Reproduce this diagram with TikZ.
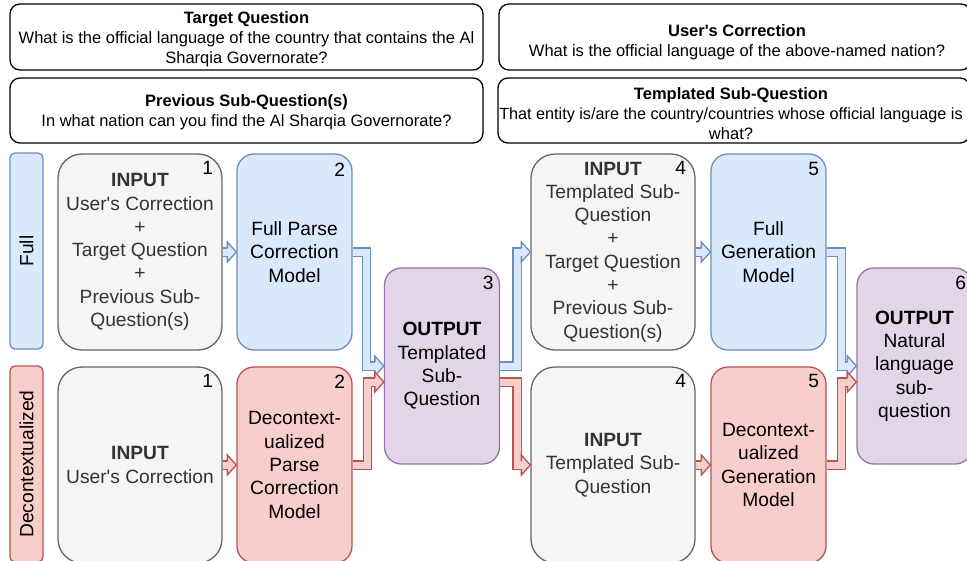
\documentclass[tikz,border=0pt]{standalone}
\usepackage{fontspec}
\setmainfont{Liberation Sans}
\usetikzlibrary{calc}
\definecolor{gfill}{HTML}{F5F5F5}
\definecolor{gstroke}{HTML}{666666}
\definecolor{gtext}{HTML}{333333}
\definecolor{bfill}{HTML}{DAE8FC}
\definecolor{bstroke}{HTML}{6C8EBF}
\definecolor{rfill}{HTML}{F8CECC}
\definecolor{rstroke}{HTML}{B85450}
\definecolor{pfill}{HTML}{E1D5E7}
\definecolor{pstroke}{HTML}{9673A6}
\newcommand{\flexhead}[3]{%
  \fill[#2] ($(#3)+(-9,-10)$) -- (#3) -- ($(#3)+(-9,10)$) -- cycle;
  \draw[#1, line width=1.3pt, line join=miter] ($(#3)+(-9,-4.15)$) -- ($(#3)+(-9,-10)$) -- (#3) -- ($(#3)+(-9,10)$) -- ($(#3)+(-9,4.15)$);
}
\begin{document}
\begin{tikzpicture}[x=1pt,y=-1pt,
  base/.style={line width=1.3pt, align=center, inner sep=0pt},
  mfont/.style={font=\fontsize{19.2}{23.3}\selectfont},
  topbox/.style={base, draw=black, fill=white, rounded corners=10pt, minimum height=66pt},
  toptext/.style={align=center, inner sep=0pt, font=\fontsize{16.5}{20}\selectfont},
  gbox/.style={base, mfont, draw=gstroke, fill=gfill, text=gtext, rounded corners=24pt, minimum width=164pt, minimum height=196pt},
  bbox/.style={base, mfont, draw=bstroke, fill=bfill, rounded corners=17pt, minimum width=115pt, minimum height=196pt},
  rbox/.style={base, mfont, draw=rstroke, fill=rfill, rounded corners=17pt, minimum width=115pt, minimum height=196pt},
  pbox/.style={base, mfont, draw=pstroke, fill=pfill, rounded corners=17pt, minimum width=115pt, minimum height=196pt},
  blabel/.style={base, mfont, draw=bstroke, fill=bfill, rounded corners=5pt, minimum width=196pt, minimum height=33pt, rotate=90},
  rlabel/.style={base, mfont, draw=rstroke, fill=rfill, rounded corners=5pt, minimum width=196pt, minimum height=33pt, rotate=90},
  num/.style={mfont, inner sep=0pt, text=black},
  bshaft/.style={draw=bstroke, line width=1.3pt, double=bfill, double distance=7pt, line join=miter},
  rshaft/.style={draw=rstroke, line width=1.3pt, double=rfill, double distance=7pt, line join=miter}
]
\useasboundingbox (0,0) rectangle (967,560);
\clip (0,0) rectangle (967,560);

% top text boxes
\node[topbox, minimum width=473pt] (tq) at (246.5,37) {};
\node[toptext] (tqt) at (246.5,39.5) {\textbf{Target Question}\\What is the official language of the country that contains the Al\\Sharqia Governorate?};
\node[topbox, minimum width=473pt, minimum height=65pt] (ps) at (246.5,110.5) {};
\node[toptext] (pst) at (246.5,112) {\textbf{Previous Sub-Question(s)}\\In what nation can you find the Al Sharqia Governorate?};
\node[topbox, minimum width=472pt] (uc) at (735,37) {};
\node[toptext] (uct) at (737,42) {\textbf{User\textquotesingle s Correction}\\What is the official language of the above-named nation?};
\node[topbox, minimum width=472pt, minimum height=65pt] (tsq) at (734,110.5) {};
\node[toptext] (tsqt) at (731,114) {\textbf{Templated Sub-Question}\\{\fontsize{16.2}{20}\selectfont That entity is/are the country/countries whose official language is}\\what?};

% row labels
\node[blabel] (lf) at (26.5,251) {Full};
\node[rlabel] (ld) at (26.5,464) {Decontextualized};

% full row
\node[gbox] (in1f) at (140,252) {\textbf{INPUT}\\User\textquotesingle s Correction\\+\\Target Question\\+\\Previous Sub-\\Question(s)};
\node[bbox] (b2f) at (294.5,252) {Full Parse\\Correction\\Model};
\node[pbox] (out3) at (442,366) {\textbf{OUTPUT}\\Templated\\Sub-\\Question};
\node[gbox] (in4f) at (613,252) {\textbf{INPUT}\\Templated Sub-\\Question\\+\\Target Question\\+\\Previous Sub-\\Question(s)};
\node[bbox] (b5f) at (768.5,252) {Full\\Generation\\Model};
\node[pbox] (out6) at (914.5,366) {\textbf{OUTPUT}\\Natural\\language\\sub-\\question};

% decontextualized row
\node[gbox] (in1d) at (140,465) {\textbf{INPUT}\\User\textquotesingle s Correction};
\node[rbox] (b2d) at (294.5,465) {Decontext-\\ualized\\Parse\\Correction\\Model};
\node[gbox] (in4d) at (613,465) {\textbf{INPUT}\\Templated Sub-\\Question};
\node[rbox] (b5d) at (768.5,465) {Decontext-\\ualized\\Generation\\Model};

% step numbers
\node[num] (n1f) at ($(in1f.north east)+(-15,15)$) {1};
\node[num] (n2f) at ($(b2f.north east)+(-13,16)$) {2};
\node[num] (n3) at ($(out3.north east)+(-12,16)$) {3};
\node[num] (n4f) at ($(in4f.north east)+(-15,15)$) {4};
\node[num] (n5f) at ($(b5f.north east)+(-13,16)$) {5};
\node[num] (n6) at ($(out6.north east)+(-12,16)$) {6};
\node[num] (n1d) at ($(in1d.north east)+(-15,15)$) {1};
\node[num] (n2d) at ($(b2d.north east)+(-13,15)$) {2};
\node[num] (n4d) at ($(in4d.north east)+(-15,15)$) {4};
\node[num] (n5d) at ($(b5d.north east)+(-13,15)$) {5};

% helper coordinates
\coordinate (o3rin) at ($(out3.west)+(0,16)$);
\coordinate (o3rout) at ($(out3.east)+(0,16)$);
\coordinate (o6rin) at ($(out6.west)+(0,16)$);

% connectors: full row
\draw[bshaft] (in1f.east) -- ($(b2f.west)+(-8.5,0)$);
\flexhead{bstroke}{bfill}{b2f.west}
\draw[bshaft] (b2f.east) -- ++(14,0) |- ($(out3.west)+(-8.5,0)$);
\flexhead{bstroke}{bfill}{out3.west}
\draw[bshaft] (out3.east) -- ++(17,0) |- ($(in4f.west)+(-8.5,0)$);
\flexhead{bstroke}{bfill}{in4f.west}
\draw[bshaft] (in4f.east) -- ($(b5f.west)+(-8.5,0)$);
\flexhead{bstroke}{bfill}{b5f.west}
\draw[bshaft] (b5f.east) -- ++(15,0) |- ($(out6.west)+(-8.5,0)$);
\flexhead{bstroke}{bfill}{out6.west}

% connectors: decontextualized row
\draw[rshaft] (in1d.east) -- ($(b2d.west)+(-8.5,0)$);
\flexhead{rstroke}{rfill}{b2d.west}
\draw[rshaft] (b2d.east) -- ++(15,0) |- ($(o3rin)+(-8.5,0)$);
\flexhead{rstroke}{rfill}{o3rin}
\draw[rshaft] (o3rout) -- ++(17,0) |- ($(in4d.west)+(-8.5,0)$);
\flexhead{rstroke}{rfill}{in4d.west}
\draw[rshaft] (in4d.east) -- ($(b5d.west)+(-8.5,0)$);
\flexhead{rstroke}{rfill}{b5d.west}
\draw[rshaft] (b5d.east) -- ++(15,0) |- ($(o6rin)+(-8.5,0)$);
\flexhead{rstroke}{rfill}{o6rin}
\end{tikzpicture}
\end{document}
